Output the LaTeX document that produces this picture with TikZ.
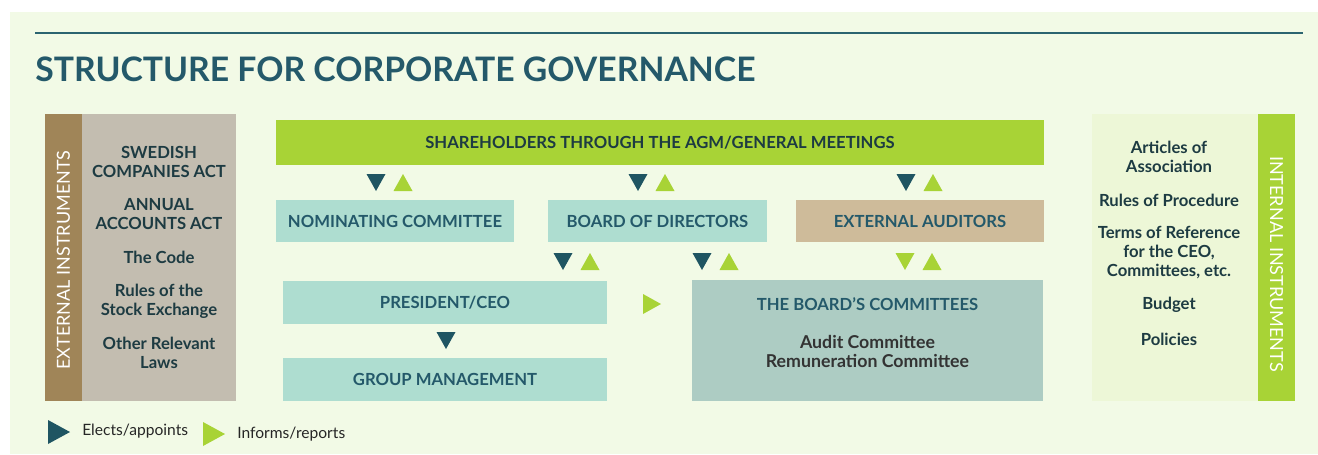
\documentclass[tikz,border=0pt]{standalone}
\usepackage{fontspec}
\setmainfont{Lato}
\usetikzlibrary{positioning}

\definecolor{bgcol}{HTML}{F2FAE6}
\definecolor{tealhead}{HTML}{24596A}
\definecolor{tealline}{HTML}{2B6470}
\definecolor{darktri}{HTML}{1F5562}
\definecolor{limegreen}{HTML}{A8D336}
\definecolor{mintbox}{HTML}{AEDDD0}
\definecolor{sagebox}{HTML}{ADCCC3}
\definecolor{tanbox}{HTML}{CEBB9A}
\definecolor{brownstrip}{HTML}{A08558}
\definecolor{greypanel}{HTML}{C3BDB0}
\definecolor{palegreen}{HTML}{EDF7D7}
\definecolor{inktext}{HTML}{1D3B42}

% small triangles: centre x, top y, colour
\newcommand{\tridown}[3]{\fill[#3] (#1-9.5,#2) -- (#1+9.5,#2) -- (#1,#2+17) -- cycle;}
\newcommand{\triup}[3]{\fill[#3] (#1-9.5,#2+17) -- (#1+9.5,#2+17) -- (#1,#2) -- cycle;}
\newcommand{\triright}[3]{\fill[#3] (#1,#2) -- (#1,#2+20) -- (#1+18,#2+10) -- cycle;}

\begin{document}
\begin{tikzpicture}[x=0.75pt, y=-0.75pt,
    box/.style={inner sep=0pt, align=center, text=tealhead,
        font=\fontsize{12.5}{14.25}\selectfont\bfseries},
    listitem/.style={inner sep=0pt, align=center, text=inktext,
        font=\fontsize{12.5}{14.25}\selectfont\bfseries},
    strip/.style={inner sep=0pt, text=white,
        font=\fontsize{13.5}{15}\selectfont},
    legendtext/.style={inner sep=0pt, anchor=west, text=black!85,
        font=\fontsize{11.7}{13}\selectfont}]

    % Page and background
    \useasboundingbox (0,0) rectangle (1318,454);
    \fill[bgcol] (10,12) rectangle (1318,454);

    % Title
    \draw[tealline, line width=2pt] (35,33) -- (1303,33);
    \node[anchor=base west, inner sep=0pt, text=tealhead,
        font=\fontsize{25.3}{28}\selectfont\bfseries] (title) at (35,81.5)
        {STRUCTURE FOR CORPORATE GOVERNANCE};

    % External instruments
    \fill[brownstrip] (45,114) rectangle (82,401);
    \fill[greypanel] (82,114) rectangle (236,401);
    \node[strip, rotate=90] (extlabel) at (63.5,260) {EXTERNAL INSTRUMENTS};
    \node[listitem] (swe) at (159,161.5) {SWEDISH\\COMPANIES ACT};
    \node[listitem] (ann) at (159,214) {ANNUAL\\ACCOUNTS ACT};
    \node[listitem] (code) at (159,257) {The Code};
    \node[listitem] (stock) at (159,301) {Rules of the\\Stock Exchange};
    \node[listitem] (laws) at (159,352.5) {Other Relevant\\Laws};

    % Internal instruments
    \fill[palegreen] (1092,114) rectangle (1258,401);
    \fill[limegreen] (1258,114) rectangle (1295,401);
    \node[strip, rotate=-90] (intlabel) at (1276.5,264) {INTERNAL INSTRUMENTS};
    \node[listitem] (art) at (1169,157) {Articles of\\Association};
    \node[listitem] (proc) at (1169,200) {Rules of Procedure};
    \node[listitem] (terms) at (1169,252.5) {Terms of Reference\\for the CEO,\\Committees, etc.};
    \node[listitem] (budget) at (1169,305) {Budget};
    \node[listitem] (policies) at (1169,339) {Policies};

    % Boxes
    \node[box, fill=limegreen, text=inktext, minimum width=768*0.75pt,
        minimum height=45*0.75pt] (agm) at (660,142.5)
        {SHAREHOLDERS THROUGH THE AGM/GENERAL MEETINGS};
    \node[box, fill=mintbox, minimum width=238*0.75pt, minimum height=42*0.75pt]
        (nom) at (395,221) {NOMINATING COMMITTEE};
    \node[box, fill=mintbox, minimum width=219*0.75pt, minimum height=42*0.75pt]
        (board) at (657.5,221) {BOARD OF DIRECTORS};
    \node[box, fill=tanbox, minimum width=248*0.75pt, minimum height=42*0.75pt]
        (aud) at (920,221) {EXTERNAL AUDITORS};
    \node[box, fill=mintbox, minimum width=324*0.75pt, minimum height=43*0.75pt]
        (ceo) at (445,302.5) {PRESIDENT/CEO};
    \node[box, fill=mintbox, minimum width=324*0.75pt, minimum height=43*0.75pt]
        (gm) at (445,379.5) {GROUP MANAGEMENT};
    \fill[sagebox] (692,280) rectangle (1043,401);
    \node[box] (commhead) at (867.5,304) {THE BOARD'S COMMITTEES};
    \node[listitem, text=black!80, font=\fontsize{13.3}{14.25}\selectfont\bfseries]
        (commlist) at (867.5,351) {Audit Committee\\Remuneration Committee};

    % Triangles (elects / informs)
    \foreach \cx in {376, 638, 906} {
        \tridown{\cx}{174}{darktri}
        \triup{\cx+27}{174}{limegreen}
    }
    \foreach \cx in {563, 702} {
        \tridown{\cx}{253}{darktri}
        \triup{\cx+27}{253}{limegreen}
    }
    \tridown{905}{253}{limegreen}
    \triup{932}{253}{limegreen}
    \tridown{446}{332}{darktri}
    \triright{643}{294}{limegreen}

    % Legend
    \fill[darktri] (48,420) -- (48,444) -- (70,432) -- cycle;
    \coordinate (elkey) at (70,431);
    \node[legendtext, right=12*0.75pt of elkey] (eltext) {Elects/appoints};
    \fill[limegreen] (203,422) -- (203,446) -- (225,434) -- cycle;
    \coordinate (inkey) at (225,434);
    \node[legendtext, right=12*0.75pt of inkey] (intext) {Informs/reports};

\end{tikzpicture}
\end{document}
